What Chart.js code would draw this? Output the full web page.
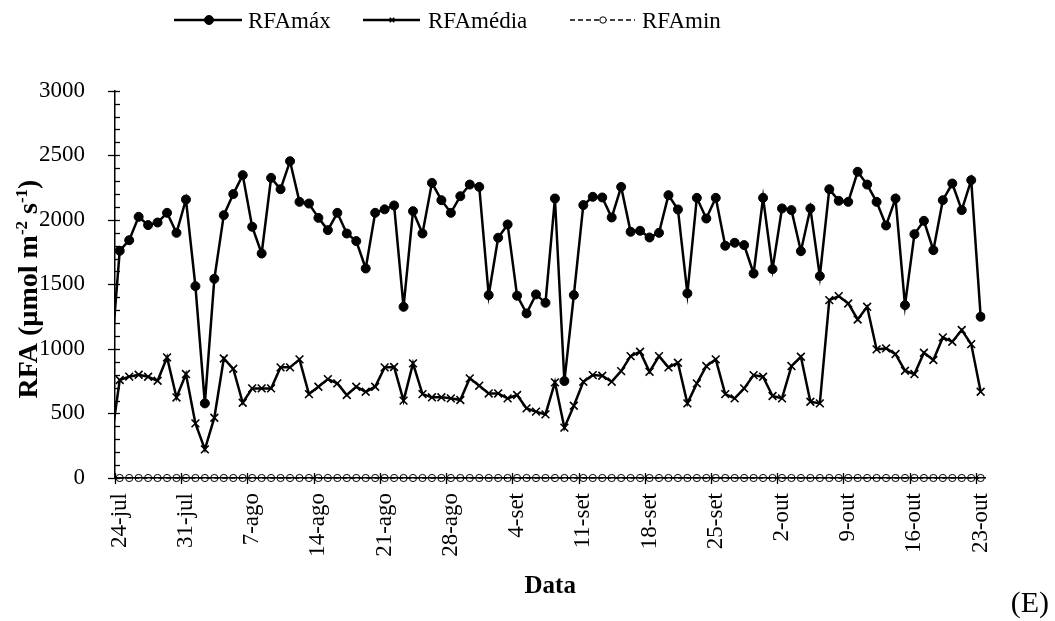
<!DOCTYPE html>
<html>
<head>
<meta charset="utf-8">
<title>RFA diária</title>
<script src="https://cdn.jsdelivr.net/npm/chart.js@4.4.1/dist/chart.umd.min.js"></script>
<style>
  html, body { margin: 0; padding: 0; background: #ffffff; }
  canvas { display: block; }
</style>
</head>
<body>
<canvas id="rfa" width="1055" height="621"></canvas>
<script>
// Daily categories; the first and last entries sit just outside the visible range
// so the lines run on to the plot edges.
const CATEGORIES = [
  '23-jul','24-jul','25-jul','26-jul','27-jul','28-jul','29-jul','30-jul','31-jul',
  '1-ago','2-ago','3-ago','4-ago','5-ago','6-ago','7-ago','8-ago','9-ago','10-ago',
  '11-ago','12-ago','13-ago','14-ago','15-ago','16-ago','17-ago','18-ago','19-ago','20-ago',
  '21-ago','22-ago','23-ago','24-ago','25-ago','26-ago','27-ago','28-ago','29-ago','30-ago','31-ago',
  '1-set','2-set','3-set','4-set','5-set','6-set','7-set','8-set','9-set','10-set',
  '11-set','12-set','13-set','14-set','15-set','16-set','17-set','18-set','19-set','20-set',
  '21-set','22-set','23-set','24-set','25-set','26-set','27-set','28-set','29-set','30-set',
  '1-out','2-out','3-out','4-out','5-out','6-out','7-out','8-out','9-out','10-out',
  '11-out','12-out','13-out','14-out','15-out','16-out','17-out','18-out','19-out','20-out',
  '21-out','22-out','23-out','24-out'
];

const TICK_LABELS = ['24-jul','31-jul','7-ago','14-ago','21-ago','28-ago','4-set',
  '11-set','18-set','25-set','2-out','9-out','16-out','23-out'];

// µmol m-2 s-1
const RFA_MAX = [
  840,
  1760, 1842, 2023, 1959, 1979, 2054, 1899, 2157, 1486, 578,
  1543, 2036, 2199, 2346, 1946, 1739, 2325, 2237, 2454, 2139,
  2126, 2015, 1920, 2054, 1894, 1835, 1623, 2054, 2081, 2111,
  1326, 2067, 1894, 2286, 2152, 2054, 2183, 2273, 2255, 1417,
  1861, 1964, 1412, 1275, 1422, 1357, 2165, 751, 1417, 2114,
  2178, 2173, 2018, 2255, 1907, 1915, 1863, 1899, 2191, 2080,
  1430, 2170, 2010, 2170, 1799, 1822, 1804, 1584, 2170, 1618,
  2088, 2075, 1757, 2088, 1564, 2237, 2147, 2139, 2372, 2273,
  2139, 1956, 2165, 1339, 1889, 1992, 1765, 2152, 2281, 2075,
  2307, 1249,
  2100
];

const RFA_MEDIA = [
  240,
  759, 785, 800, 784, 753, 934, 624, 805, 423, 222,
  467, 926, 846, 583, 694, 694, 694, 857, 857, 919,
  650, 707, 766, 733, 643, 707, 668, 707, 857, 860,
  599, 888, 650, 625, 625, 617, 604, 772, 715, 655,
  655, 617, 643, 539, 514, 493, 741, 390, 560, 746,
  797, 792, 746, 828, 944, 978, 823, 944, 857, 893,
  578, 733, 867, 919, 650, 617, 694, 797, 784, 635,
  617, 867, 939, 591, 578, 1378, 1409, 1352, 1228, 1326,
  996, 1004, 960, 831, 805, 970, 914, 1089, 1055, 1146,
  1037, 668,
  1300
];

const RFA_MIN = [
  0,
  0, 0, 0, 0, 0, 0, 0, 0, 0, 0,
  0, 0, 0, 0, 0, 0, 0, 0, 0, 0,
  0, 0, 0, 0, 0, 0, 0, 0, 0, 0,
  0, 0, 0, 0, 0, 0, 0, 0, 0, 0,
  0, 0, 0, 0, 0, 0, 0, 0, 0, 0,
  0, 0, 0, 0, 0, 0, 0, 0, 0, 0,
  0, 0, 0, 0, 0, 0, 0, 0, 0, 0,
  0, 0, 0, 0, 0, 0, 0, 0, 0, 0,
  0, 0, 0, 0, 0, 0, 0, 0, 0, 0,
  0, 0,
  0
];

const SERIES_NAMES = ['RFAmáx', 'RFAmédia', 'RFAmin'];
const Y_TITLE = [['RFA (µmol m', false], ['-2', true], [' s', false], ['-1', true], [')', false]];
const X_TITLE = 'Data';
const PANEL_TAG = '(E)';

const SERIF = '"Liberation Serif", "Times New Roman", serif';
const INK = '#000000';

const seriesStyle = [
  { pointStyle: 'circle',   radius: 4.5, borderWidth: 1,   fill: INK,          lineWidth: 2.5, dash: [] },
  { pointStyle: 'crossRot', radius: 5.5, borderWidth: 1.6, fill: INK,          lineWidth: 2.5, dash: [] },
  { pointStyle: 'circle',   radius: 3.6, borderWidth: 1,   fill: 'rgba(0,0,0,0)', lineWidth: 1.5, dash: [5, 3] }
];

function makeDataset(label, data, st) {
  return {
    label: label,
    data: data,
    borderColor: INK,
    backgroundColor: st.fill,
    borderWidth: st.lineWidth,
    borderDash: st.dash,
    tension: 0,
    pointStyle: st.pointStyle,
    pointRadius: st.radius,
    pointHoverRadius: st.radius,
    pointBorderWidth: st.borderWidth,
    pointBorderColor: INK,
    pointBackgroundColor: st.fill,
    clip: { left: 0, right: 0, top: 14, bottom: 14 }
  };
}

// Tick marks, axis titles, legend and panel tag
const decorations = {
  id: 'decorations',
  afterDraw(chart) {
    const ctx = chart.ctx;
    const xs = chart.scales.x, ys = chart.scales.y;
    const area = chart.chartArea;
    ctx.save();
    ctx.strokeStyle = INK;
    ctx.fillStyle = INK;

    // y ticks: majors cross the axis, minors point inward
    ctx.lineWidth = 1.3;
    for (let v = 0; v <= 3000; v += 100) {
      const py = Math.round(ys.getPixelForValue(v)) + 0.5;
      const major = v % 500 === 0;
      ctx.beginPath();
      ctx.moveTo(area.left - (major ? 7 : 0), py);
      ctx.lineTo(area.left + 5, py);
      ctx.stroke();
    }

    // x ticks between categories, one per labelled week
    const half = (xs.getPixelForValue(1) - xs.getPixelForValue(0)) / 2;
    TICK_LABELS.forEach(lbl => {
      const idx = CATEGORIES.indexOf(lbl);
      const px = Math.round(xs.getPixelForValue(idx) - half) + 0.5;
      ctx.beginPath();
      ctx.moveTo(px, area.bottom - 5);
      ctx.lineTo(px, area.bottom + 6);
      ctx.stroke();
    });

    // x title
    ctx.font = 'bold 25px ' + SERIF;
    ctx.textAlign = 'center';
    ctx.textBaseline = 'alphabetic';
    ctx.fillText(X_TITLE, (area.left + area.right) / 2, 593);

    // y title with superscripts, rotated
    ctx.save();
    ctx.translate(37, 289);
    ctx.rotate(-Math.PI / 2);
    const size = 28;
    const big = 'bold ' + size + 'px ' + SERIF;
    const small = 'bold ' + Math.round(size * 0.62) + 'px ' + SERIF;
    let total = 0;
    Y_TITLE.forEach(([t, sup]) => { ctx.font = sup ? small : big; total += ctx.measureText(t).width; });
    let cx = -total / 2;
    ctx.textAlign = 'left';
    Y_TITLE.forEach(([t, sup]) => {
      ctx.font = sup ? small : big;
      ctx.fillText(t, cx, sup ? -size * 0.36 : 0);
      cx += ctx.measureText(t).width;
    });
    ctx.restore();

    // legend
    const legendItems = [
      { x0: 174, x1: 242, mx: 209, tx: 248 },
      { x0: 363, x1: 420, mx: 392, tx: 428 },
      { x0: 570, x1: 635, mx: 603, tx: 642 }
    ];
    const ly = 20;
    legendItems.forEach((it, i) => {
      const st = seriesStyle[i];
      ctx.lineWidth = st.lineWidth;
      ctx.setLineDash(st.dash);
      ctx.beginPath();
      ctx.moveTo(it.x0, ly);
      ctx.lineTo(it.x1, ly);
      ctx.stroke();
      ctx.setLineDash([]);
      ctx.fillStyle = i === 2 ? '#ffffff' : INK;
      ctx.lineWidth = st.borderWidth;
      Chart.helpers.drawPoint(ctx, {
        pointStyle: st.pointStyle,
        radius: i === 0 ? 4.5 : 3.2,
        rotation: 0,
        borderWidth: st.borderWidth
      }, it.mx, ly);
      ctx.fillStyle = INK;
      ctx.font = '23px ' + SERIF;
      ctx.textAlign = 'left';
      ctx.textBaseline = 'alphabetic';
      ctx.fillText(SERIES_NAMES[i], it.tx, 28);
    });

    // panel tag
    ctx.font = '30px ' + SERIF;
    ctx.textAlign = 'right';
    ctx.fillText(PANEL_TAG, 1049, 612);
    ctx.restore();
  }
};

new Chart(document.getElementById('rfa'), {
  type: 'line',
  data: {
    labels: CATEGORIES,
    datasets: [
      makeDataset(SERIES_NAMES[0], RFA_MAX, seriesStyle[0]),
      makeDataset(SERIES_NAMES[1], RFA_MEDIA, seriesStyle[1]),
      makeDataset(SERIES_NAMES[2], RFA_MIN, seriesStyle[2])
    ]
  },
  options: {
    responsive: false,
    animation: false,
    events: [],
    layout: { padding: { top: 90.7, left: 0, right: 69.6, bottom: 0 } },
    plugins: {
      legend: { display: false },
      tooltip: { enabled: false },
      title: { display: false }
    },
    scales: {
      x: {
        type: 'category',
        min: TICK_LABELS[0],
        max: TICK_LABELS[TICK_LABELS.length - 1],
        offset: true,
        grid: { display: false },
        border: { display: true, color: INK, width: 1.5 },
        ticks: {
          autoSkip: false,
          minRotation: 90,
          maxRotation: 90,
          padding: 7,
          color: INK,
          font: { family: SERIF, size: 23 },
          callback: function (value) {
            const lbl = this.getLabelForValue(value);
            return TICK_LABELS.includes(lbl) ? lbl : '';
          }
        },
        afterFit(scale) { scale.height = 143; }
      },
      y: {
        min: 0,
        max: 3000,
        grid: { display: false },
        border: { display: true, color: INK, width: 1.5 },
        ticks: {
          stepSize: 500,
          padding: 22,
          color: INK,
          font: { family: SERIF, size: 23 },
          callback: value => String(value)
        },
        afterFit(scale) { scale.width = 115; }
      }
    }
  },
  plugins: [decorations]
});
</script>
</body>
</html>
